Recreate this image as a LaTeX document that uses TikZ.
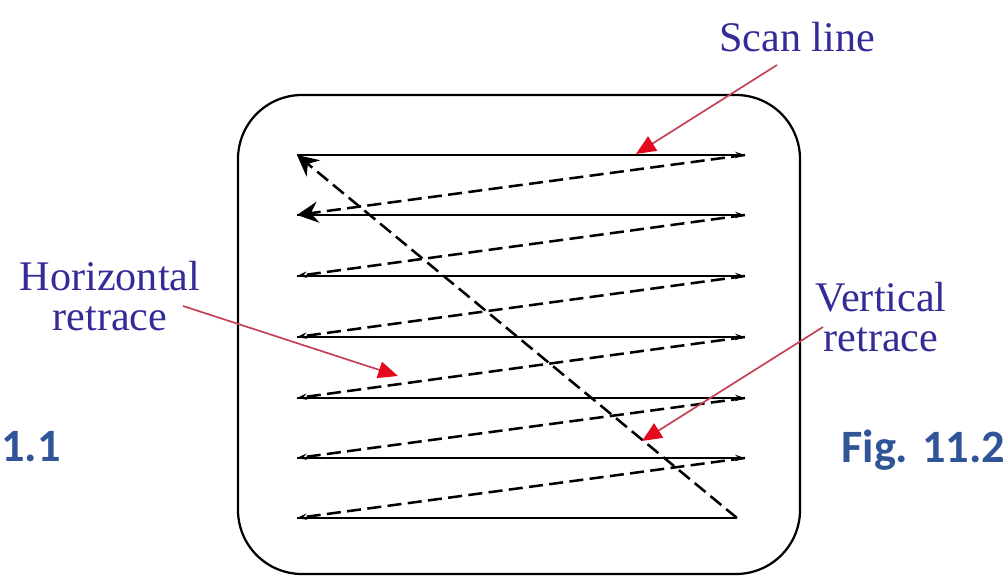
\documentclass[tikz,border=0pt]{standalone}
\usepackage{fontspec}
\setmainfont{Liberation Serif}
\newfontfamily\calibri{Carlito}
\usetikzlibrary{arrows.meta}
\definecolor{labelblue}{RGB}{52,44,150}
\definecolor{figblue}{RGB}{47,85,151}
\definecolor{pointerred}{RGB}{196,64,84}
\definecolor{tipred}{RGB}{228,10,30}

\begin{document}
\begin{tikzpicture}[x=0.025cm,y=-0.025cm,
    tube/.style={draw,line width=1.6pt,rounded corners=1.6cm},
    scanline/.style={line width=2pt,-{Stealth[length=7pt,width=4.5pt]}},
    hretrace/.style={line width=1.8pt,dash pattern=on 10pt off 4.5pt,-{Stealth[length=7pt,width=4.5pt]}},
    bigtip/.style={-{Stealth[length=15pt,width=15pt,inset=5pt]}},
    callout/.style={text=labelblue,font=\fontsize{30}{28.5}\selectfont,align=center,inner sep=1pt},
    pointer/.style={draw=pointerred,line width=1.2pt,-{Triangle[length=14pt,width=12pt,color=tipred]}},
    figtag/.style={text=figblue,font=\calibri\bfseries\fontsize{33}{33}\selectfont,inner sep=0pt}]

\useasboundingbox (0,0) rectangle (1008,576);

% the screen
\draw[tube] (238,95) rectangle (800,574);

\coordinate (l1) at (297,155); \coordinate (r1) at (745,155);
\coordinate (l2) at (297,215); \coordinate (r2) at (745,215);
\coordinate (l3) at (297,276); \coordinate (r3) at (745,276);
\coordinate (l4) at (297,337); \coordinate (r4) at (745,337);
\coordinate (l5) at (297,398); \coordinate (r5) at (745,398);
\coordinate (l6) at (297,458); \coordinate (r6) at (745,458);
\coordinate (l7) at (297,518); \coordinate (r7) at (737,518);

% scan lines
\draw[scanline] (l1) -- (r1);
\draw[scanline] (l2) -- (r2);
\draw[scanline] (l3) -- (r3);
\draw[scanline] (l4) -- (r4);
\draw[scanline] (l5) -- (r5);
\draw[scanline] (l6) -- (r6);
\draw[line width=2pt] (l7) -- (r7);

% retraces
\draw[hretrace,bigtip] (r1) -- (l2);
\draw[hretrace] (r2) -- (l3);
\draw[hretrace] (r3) -- (l4);
\draw[hretrace] (r4) -- (l5);
\draw[hretrace] (r5) -- (l6);
\draw[hretrace] (r6) -- (l7);
\draw[hretrace,bigtip] (r7) -- (l1);

% labels
\node[callout,anchor=base] (scanlbl) at (797,52) {Scan line};
\node[callout] (horlbl) at (110,296) {Horizontal\\retrace};
\node[callout] (verlbl) at (881,317) {Vertical\\retrace};

\coordinate (scantail) at (777,65);  \coordinate (scanhead) at (636,154);
\coordinate (hortail) at (183,306);  \coordinate (horhead) at (398,376);
\coordinate (vertail) at (823,327);  \coordinate (verhead) at (642,441);

\draw[pointer] (scantail) -- (scanhead);
\draw[pointer] (hortail) -- (horhead);
\draw[pointer] (vertail) -- (verhead);

\node[figtag,anchor=base west] (figleft) at (1,462) {1.1};
\node[figtag,anchor=base west] (figright) at (841,463) {Fig. 11.2};

\end{tikzpicture}
\end{document}
